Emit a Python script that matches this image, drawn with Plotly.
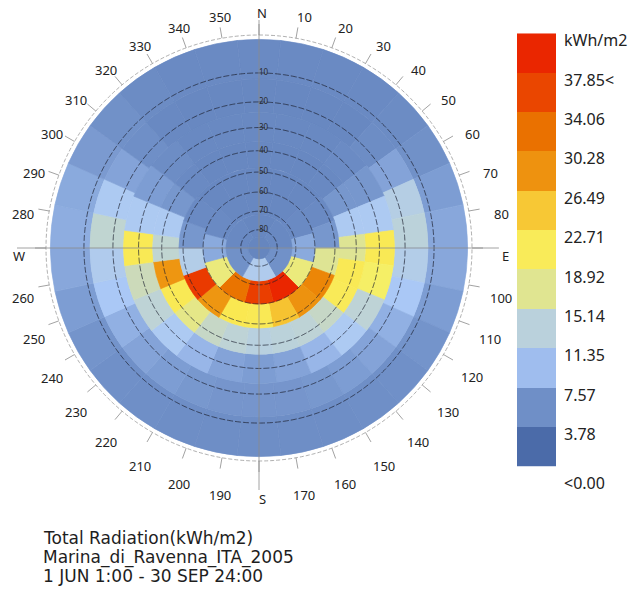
import numpy as np
import plotly.graph_objects as go
from plotly.colors import sample_colorscale

# Tregenza sky subdivision: altitude bounds of each row and patch count per row
ROW_ALT_BOUNDS = [0, 12, 24, 36, 48, 60, 72, 84, 90]
ROW_PATCHES = [30, 30, 24, 24, 18, 12, 6, 1]

# Total radiation per sky patch (kWh/m2); each row lists patches clockwise from north
ROW_0_12 = [3.3, 3.3, 3.3, 3.3, 3.5, 4.0, 5.0, 5.8, 5.8, 5.0, 4.3, 3.9, 3.8, 3.7, 3.7,
            3.7, 3.7, 3.7, 3.8, 3.9, 4.3, 5.0, 5.8, 6.3, 6.0, 4.8, 4.0, 3.5, 3.3, 3.3]
ROW_12_24 = [3.0, 3.0, 3.0, 3.1, 3.6, 5.5, 10.5, 11.5, 10.0, 8.5, 6.5, 5.5, 5.0, 4.6, 4.4,
             4.4, 4.4, 4.6, 5.0, 5.5, 6.5, 8.5, 9.5, 12.5, 9.0, 5.5, 3.8, 3.2, 3.0, 3.0]
ROW_24_36 = [3.2, 3.2, 3.2, 3.4, 4.5, 9.0, 19.5, 17.0, 12.0, 9.0, 7.0, 5.5,
             5.0, 5.5, 7.0, 9.0, 12.0, 13.5, 19.5, 9.0, 5.0, 3.6, 3.2, 3.2]
ROW_36_48 = [3.0, 3.0, 3.0, 3.2, 4.5, 9.0, 15.0, 19.5, 19.0, 13.0, 12.0, 11.5,
             11.0, 12.0, 13.0, 15.5, 19.5, 26.0, 12.5, 9.0, 4.5, 3.3, 3.0, 3.0]
ROW_48_60 = [3.1, 3.1, 3.1, 3.3, 4.5, 15.0, 28.0, 26.5, 23.0,
             19.5, 20.0, 26.0, 35.5, 10.0, 4.5, 3.3, 3.1, 3.1]
ROW_60_72 = [3.0, 3.0, 3.3, 6.0, 16.0, 40.0, 35.0, 30.0, 16.0, 6.0, 3.3, 3.0]
ROW_72_84 = [2.9, 3.2, 4.0, 9.5, 4.0, 3.2]
ROW_ZENITH = [2.8]
ROWS = [ROW_0_12, ROW_12_24, ROW_24_36, ROW_36_48, ROW_48_60, ROW_60_72, ROW_72_84, ROW_ZENITH]

# Legend
LEGEND_MIN, LEGEND_MAX, LEGEND_SEGMENTS = 0.0, 37.85, 11
LEGEND_LABELS = ["<0.00", "3.78", "7.57", "11.35", "15.14", "18.92",
                 "22.71", "26.49", "30.28", "34.06", "37.85<", "kWh/m2"]
GRADIENT = [(75, 107, 169), (115, 147, 202), (170, 200, 247), (193, 213, 208),
            (245, 239, 103), (252, 230, 74), (239, 156, 21), (234, 123, 0),
            (234, 74, 0), (234, 38, 0)]

# Compass and altitude annotations
AZIMUTH_TICKS = list(range(0, 360, 10))
CARDINALS = {0: "N", 90: "E", 180: "S", 270: "W"}
ALTITUDE_CIRCLES = [10, 20, 30, 40, 50, 60, 70, 80]
TITLE_LINES = ["Total Radiation(kWh/m2)", "Marina_di_Ravenna_ITA_2005",
               "1 JUN 1:00 - 30 SEP 24:00"]

W, H = 637, 596
CX, CY, R_POLAR = 259, 248, 242     # polar centre and radius in pixels
R_MAX = 1.16                         # radial range; the horizon sits at r = 1
R_HORIZON_PX = R_POLAR / R_MAX


def stereo(alt):
    """Stereographic projection of altitude (deg) onto the unit horizon disk."""
    return np.tan(np.radians(90.0 - np.asarray(alt, dtype=float)) / 2.0)


colorscale = [[i / (len(GRADIENT) - 1), "rgb(%d,%d,%d)" % c] for i, c in enumerate(GRADIENT)]

# Sky patches as annular sectors
thetas, widths, bases, lengths, values = [], [], [], [], []
for i, row in enumerate(ROWS):
    n = ROW_PATCHES[i]
    step = 360.0 / n
    r_out = float(stereo(ROW_ALT_BOUNDS[i]))
    r_in = float(stereo(ROW_ALT_BOUNDS[i + 1]))
    for k, v in enumerate(row):
        thetas.append(k * step)
        widths.append(step)
        bases.append(r_in)
        lengths.append(r_out - r_in)
        values.append(v)

# outline each patch in its own fill colour so neighbours join without seams
norm = [min(max((v - LEGEND_MIN) / (LEGEND_MAX - LEGEND_MIN), 0.0), 1.0) for v in values]
edge_colors = sample_colorscale(colorscale, norm)

fig = go.Figure()
fig.add_trace(go.Barpolar(
    theta=thetas, width=widths, base=bases, r=lengths,
    marker=dict(color=values, colorscale=colorscale, cmin=LEGEND_MIN, cmax=LEGEND_MAX,
                line=dict(width=0.7, color=edge_colors)),
    showlegend=False, hoverinfo="skip",
))

# Altitude circles
circ = np.linspace(0, 360, 721)
for alt in ALTITUDE_CIRCLES:
    fig.add_trace(go.Scatterpolar(
        theta=circ, r=np.full(circ.shape, stereo(alt)), mode="lines",
        line=dict(color="rgba(30,35,50,0.8)", width=0.9, dash="6px,2px"),
        showlegend=False, hoverinfo="skip"))
fig.add_trace(go.Scatterpolar(
    theta=[0] * len(ALTITUDE_CIRCLES), r=stereo(ALTITUDE_CIRCLES),
    text=[str(a) for a in ALTITUDE_CIRCLES], mode="text", textposition="middle right",
    textfont=dict(family="Noto Sans", size=8, color="#2b2b2b"),
    showlegend=False, hoverinfo="skip"))

# Cross hairs through the zenith
cross_t, cross_r = [], []
for az, reach in [(0, 1.093), (90, 1.15), (180, 1.16), (270, 1.16)]:
    cross_t += [az, az, None]
    cross_r += [0, reach, None]
fig.add_trace(go.Scatterpolar(theta=cross_t, r=cross_r, mode="lines",
                              line=dict(color="#8a8a8a", width=0.8),
                              showlegend=False, hoverinfo="skip"))

# Outer compass ring with ticks
R_RING, R_TICK = 213 / R_HORIZON_PX, 224 / R_HORIZON_PX
fig.add_trace(go.Scatterpolar(theta=circ, r=np.full(circ.shape, R_RING), mode="lines",
                              line=dict(color="#9a9a9a", width=0.8, dash="4px,2px"),
                              showlegend=False, hoverinfo="skip"))
tick_t, tick_r = [], []
for az in AZIMUTH_TICKS:
    tick_t += [az, az, None]
    tick_r += [R_RING, R_TICK, None]
fig.add_trace(go.Scatterpolar(theta=tick_t, r=tick_r, mode="lines",
                              line=dict(color="#8a8a8a", width=0.8),
                              showlegend=False, hoverinfo="skip"))

annotations = []
# Azimuth labels, set on a circle just outside the compass ring
LABEL_R_PX, LABEL_DX, LABEL_DY = 243, 3, 8
for az in AZIMUTH_TICKS:
    a = np.radians(az)
    px = CX + LABEL_DX + LABEL_R_PX * np.sin(a)
    py = CY + LABEL_DY - LABEL_R_PX * np.cos(a)
    annotations.append(dict(
        x=px / W, y=1 - py / H, xref="paper", yref="paper",
        text=CARDINALS.get(az, str(az)), showarrow=False,
        xanchor="center", yanchor="middle",
        font=dict(family="Noto Sans", size=13, color="#222222")))

# Segmented legend
legend_vals = np.linspace(LEGEND_MIN, LEGEND_MAX, LEGEND_SEGMENTS)
fig.add_trace(go.Heatmap(
    z=[[v] for v in legend_vals], x=[0], y=list(range(LEGEND_SEGMENTS)),
    colorscale=colorscale, zmin=LEGEND_MIN, zmax=LEGEND_MAX, showscale=False,
    xaxis="x", yaxis="y", hoverinfo="skip"))

for k, lab in enumerate(LEGEND_LABELS):
    annotations.append(dict(
        x=1.0, xref="x domain", y=k - 0.5, yref="y", text=lab, showarrow=False,
        xanchor="left", yanchor="middle", xshift=6, yshift=-7 if k else -16,
        font=dict(family="Noto Sans", size=16, color="#222222")))
for j, line in enumerate(TITLE_LINES):
    annotations.append(dict(
        x=41 / W, xref="paper", y=1 - (538 + 19 * j) / H, yref="paper", text=line,
        showarrow=False, xanchor="left", yanchor="middle",
        font=dict(family="DejaVu Sans", size=17, color="#1e1e1e")))

fig.update_layout(
    width=W, height=H, margin=dict(l=0, r=0, t=0, b=0),
    paper_bgcolor="white", plot_bgcolor="white",
    polar=dict(
        domain=dict(x=[(CX - R_POLAR) / W, (CX + R_POLAR) / W],
                    y=[(H - CY - R_POLAR) / H, (H - CY + R_POLAR) / H]),
        bgcolor="white", bargap=0,
        radialaxis=dict(range=[0, R_MAX], visible=False),
        angularaxis=dict(visible=False, direction="clockwise", rotation=90),
    ),
    xaxis=dict(domain=[517 / W, 556 / W], visible=False, fixedrange=True),
    yaxis=dict(domain=[(H - 466.7) / H, (H - 33.3) / H], range=[-0.5, 10.5],
               visible=False, fixedrange=True),
    annotations=annotations,
)

fig.write_html("out.html")
